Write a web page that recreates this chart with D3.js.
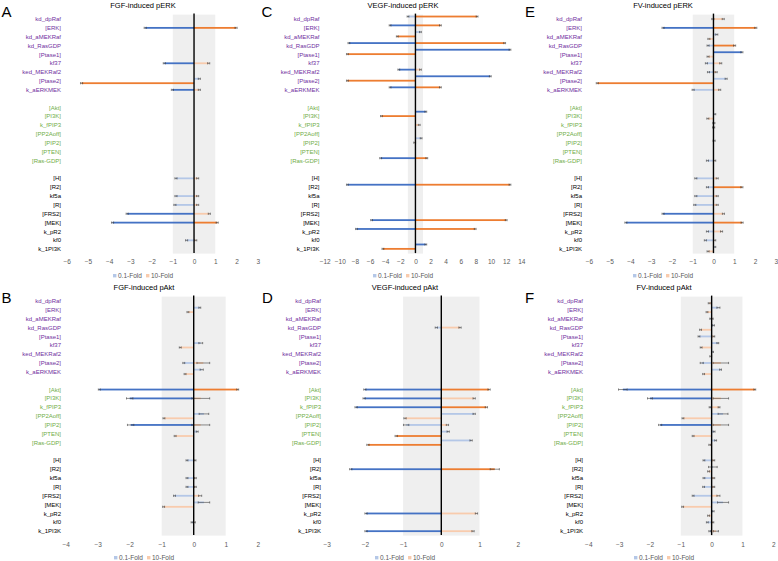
<!DOCTYPE html>
<html>
<head>
<meta charset="utf-8">
<script src="https://cdn.jsdelivr.net/npm/d3@7"></script>
<style>
  body { margin: 0; background: #fff; }
  svg { font-family: "Liberation Sans", Arial, sans-serif; }
</style>
</head>
<body>
<svg id="chart" width="778" height="561"></svg>
<script>
// parameter names, top to bottom
var categories = ["kd_dpRaf", "[ERK]", "kd_aMEKRaf", "kd_RasGDP", "[Ptase1]", "kf37", "ked_MEKRaf2", "[Ptase2]", "k_aERKMEK",
  "[Akt]", "[PI3K]", "k_fPIP3", "[PP2Aoff]", "[PIP2]", "[PTEN]", "[Ras-GDP]",
  "[H]", "[R2]", "kf5a", "[R]", "[FRS2]", "[MEK]", "k_pR2", "kf0", "k_1PI3K"];
var groups = [0,0,0,0,0,0,0,0,0, 1,1,1,1,1,1,1, 2,2,2,2,2,2,2,2,2];
var groupColors = ["#7030A0", "#70AD47", "#000000"];
var seriesNames = ["0.1-Fold", "10-Fold"];

// sensitivity values (0.1-fold / 10-fold)
var fgfErkLow  = [0, -2.3, 0, 0, 0, -1.4, 0, 0.25, -1.02, 0, 0, 0, 0, 0, 0, 0, -0.85, 0, -0.85, -0.9, -3.15, -3.84, 0, -0.35, 0];
var fgfErkHigh = [0, 1.98, 0, 0, 0, 0.69, 0, -5.3, 0.25, 0, 0, 0, 0, 0, 0, 0, 0.17, 0, 0.17, 0.17, 0.72, 1.09, 0, 0.08, 0];

var fgfAktLow  = [0, 0.19, 0, 0, 0, 0.22, 0, -0.31, 0.25, -2.95, -2.0, 0, 0.32, -1.97, 0.11, 0, -0.21, 0, -0.21, -0.21, -0.6, 0.32, 0, -0.05, 0];
var fgfAktHigh = [0, -0.18, 0, 0, 0, -0.42, 0, 0.3, -0.27, 1.375, 0.22, 0, -0.93, 0.22, -0.58, 0, 0.04, 0, 0.05, 0.05, 0.2, -0.94, 0, 0.02, 0];

var vegfErkLow  = [-0.98, -3.35, 0.66, -8.8, 12.5, 0, -2.2, 9.9, -3.35, 0, 1.37, 0, 0, 0.75, 0, -4.6, 0, -9.0, 0, 0, 0, -5.8, -7.8, 0, 1.37];
var vegfErkHigh = [8.15, 3.3, -2.4, 11.8, -9.0, 0, 0.66, -9.0, 3.3, 0, -4.5, 0.5, 0, -0.1, 0, 1.5, 0, 12.5, 0, 0, 0, 12.0, 7.9, 0, -4.3];

var vegfAktLow  = [0, 0, 0, -0.13, 0, 0, 0, 0, 0, -2.0, -2.02, -2.23, 0.86, -0.92, 0.18, 0.78, 0, -2.37, 0, 0, 0, 0, -1.97, 0, -1.97];
var vegfAktHigh = [0, 0, 0, 0.49, 0, 0, 0, 0, 0, 1.25, 0.86, 1.18, -0.95, 0.16, -1.18, -1.92, 0, 1.4, 0, 0, 0, 0, 0.92, 0, 0.83];

var fvErkLow  = [-0.03, -2.43, 0.16, -0.26, 1.37, -0.34, -0.24, 0.61, -0.98, 0, 0.06, 0.02, 0, 0.03, 0, -0.29, -0.85, -0.29, -0.85, -0.9, -2.43, -4.22, -0.29, -0.39, 0.06];
var fvErkHigh = [0.47, 2.04, -0.22, 1.02, -0.26, 0.35, 0.13, -5.6, 0.3, 0, -0.27, 0.01, 0, 0, 0, 0.06, 0.18, 1.37, 0.18, 0.18, 0.48, 1.38, 0.39, 0.06, -0.26];

var fvAktLow  = [0, 0.22, -0.03, 0.06, -0.41, 0.2, 0.03, -0.32, 0.29, -2.88, -2.0, -0.05, 0.37, -1.67, 0.08, 0.13, -0.25, 0.04, -0.25, -0.26, -0.6, 0.37, 0.05, -0.14, -0.06];
var fvAktHigh = [-0.08, -0.15, 0.02, -0.36, 0.07, -0.34, -0.03, 0.3, -0.26, 1.4, 0.3, 0.24, -0.93, 0.3, -0.6, -0.06, 0.07, -0.1, 0.07, 0.07, 0.22, -0.94, -0.1, 0.04, 0.14];

// larger error bars [category index, error]
var fgfAktErrLow  = [[5, 0.06], [8, 0.05], [10, 0.1], [12, 0.15], [13, 0.1], [21, 0.18]];
var fgfAktErrHigh = [[7, 0.2], [10, 0.28], [13, 0.28], [20, 0.05]];
var vegfAktErrLow  = [[13, 0.07]];
var vegfAktErrHigh = [[17, 0.12]];
var fvAktErrLow  = [[1, 0.05], [7, 0.05], [9, 0.14], [10, 0.08], [12, 0.16], [13, 0.05], [17, 0.14], [21, 0.18]];
var fvAktErrHigh = [[7, 0.25], [10, 0.25], [13, 0.25], [20, 0.05], [24, 0.08]];

var panels = [
  {letter: "A", title: "FGF-induced pERK",  low: fgfErkLow,  high: fgfErkHigh,  errLow: [], errHigh: [], err: 0.05, domain: [-6, 3],   step: 1, range: [66.7, 257.7],  labelX: 61,  cx: 143, letterX: 1.5, row: 0, shift: 0},
  {letter: "B", title: "FGF-induced pAkt",  low: fgfAktLow,  high: fgfAktHigh,  errLow: fgfAktErrLow, errHigh: fgfAktErrHigh, err: 0.03, domain: [-4, 2], step: 1, range: [65.7, 257.7], labelX: 61, cx: 144, letterX: 1.5, row: 1, shift: 0},
  {letter: "C", title: "VEGF-induced pERK", low: vegfErkLow, high: vegfErkHigh, errLow: [], errHigh: [], err: 0.12, domain: [-12, 14], step: 2, range: [324.7, 521.3], labelX: 319.5, cx: 403, letterX: 261.5, row: 0, shift: -2.5},
  {letter: "D", title: "VEGF-induced pAkt", low: vegfAktLow, high: vegfAktHigh, errLow: vegfAktErrLow, errHigh: vegfAktErrHigh, err: 0.03, domain: [-3, 2], step: 1, range: [326.7, 517.7], labelX: 321, cx: 405, letterX: 262, row: 1, shift: 0},
  {letter: "E", title: "FV-induced pERK",   low: fvErkLow,   high: fvErkHigh,   errLow: [], errHigh: [], err: 0.05, domain: [-6, 3],   step: 1, range: [589, 775.7],   labelX: 582, cx: 663, letterX: 525, row: 0, shift: 0},
  {letter: "F", title: "FV-induced pAkt",   low: fvAktLow,   high: fvAktHigh,   errLow: fvAktErrLow, errHigh: fvAktErrHigh, err: 0.03, domain: [-4, 2], step: 1, range: [588.3, 773.3], labelX: 583, cx: 664, letterX: 525, row: 1, shift: 0}
];

var rowLayout = [
  {top: 14.6, titleY: 7.5, letterY: 16.8, tickY: 264, legendY: 275.7},
  {top: 296.6, titleY: 289.5, letterY: 303.2, tickY: 546.7, legendY: 557.7}
];

var darkColors = ["#4472C4", "#ED7D31"];
var lightColors = ["#B4C7E7", "#F8CBAD"];
var plotH = 239;

// slot list with a blank row between groups
var rowKeys = [];
categories.forEach(function(c, i) {
  if (i > 0 && groups[i] != groups[i - 1]) rowKeys.push("gap" + i);
  rowKeys.push(c);
});

var svg = d3.select("#chart");
svg.append("rect").attr("width", 778).attr("height", 561).attr("fill", "#fff");

panels.forEach(function(p) {
  var L = rowLayout[p.row];
  var x = d3.scaleLinear().domain(p.domain).range(p.range);
  var y = d3.scaleBand().domain(rowKeys).range([L.top, L.top + plotH]);
  var g = svg.append("g");

  // grey +-1 band
  g.append("rect").attr("x", x(-1)).attr("y", L.top).attr("width", x(1) - x(-1)).attr("height", plotH).attr("fill", "#efefef");

  // bars
  var bars = [];
  categories.forEach(function(c, i) {
    var same = p.low[i] < 0 && p.high[i] > 0;
    [p.low[i], p.high[i]].forEach(function(v, s) {
      if (v === 0) return;
      var errList = s == 0 ? p.errLow : p.errHigh;
      var e = p.err;
      errList.forEach(function(d) { if (d[0] == i) e = d[1]; });
      var cy = y(c) + y.bandwidth() / 2 + p.shift + (same ? 0 : (s == 0 ? -2.2 : 2.2));
      bars.push({v: v, s: s, cy: cy, e: e});
    });
  });

  g.selectAll("rect.bar").data(bars).enter().append("rect").attr("class", "bar")
    .attr("x", function(d) { return x(Math.min(0, d.v)); })
    .attr("width", function(d) { return Math.abs(x(d.v) - x(0)); })
    .attr("y", function(d) { return d.cy - 0.9; })
    .attr("height", 1.8)
    .attr("fill", function(d) { return Math.abs(d.v) >= 1 ? darkColors[d.s] : lightColors[d.s]; });

  // error bars
  var eb = g.selectAll("g.err").data(bars).enter().append("g").attr("class", "err")
    .attr("stroke", "#404040").attr("stroke-width", 0.6);
  eb.append("line")
    .attr("x1", function(d) { return x(d.v - d.e); }).attr("x2", function(d) { return x(d.v + d.e); })
    .attr("y1", function(d) { return d.cy; }).attr("y2", function(d) { return d.cy; });
  eb.append("line")
    .attr("x1", function(d) { return x(d.v - d.e); }).attr("x2", function(d) { return x(d.v - d.e); })
    .attr("y1", function(d) { return d.cy - 1.1; }).attr("y2", function(d) { return d.cy + 1.1; });
  eb.append("line")
    .attr("x1", function(d) { return x(d.v + d.e); }).attr("x2", function(d) { return x(d.v + d.e); })
    .attr("y1", function(d) { return d.cy - 1.1; }).attr("y2", function(d) { return d.cy + 1.1; });

  // zero line
  g.append("line").attr("x1", x(0)).attr("x2", x(0)).attr("y1", L.top - 1).attr("y2", L.top + plotH - 0.5)
    .attr("stroke", "#000").attr("stroke-width", 1.4);

  // category labels
  g.selectAll("text.cat").data(categories).enter().append("text").attr("class", "cat")
    .attr("x", p.labelX)
    .attr("y", function(d) { return y(d) + y.bandwidth() / 2 + 2.1; })
    .attr("text-anchor", "end")
    .attr("font-size", "6px")
    .attr("fill", function(d, i) { return groupColors[groups[i]]; })
    .text(function(d) { return d; });

  // x axis tick labels
  var ticks = d3.range(p.domain[0], p.domain[1] + p.step / 2, p.step);
  var axis = d3.axisBottom(x).tickValues(ticks).tickSize(0).tickPadding(0).tickFormat(d3.format("d"));
  var ax = g.append("g").attr("transform", "translate(0," + (L.tickY - 4.6) + ")").call(axis);
  ax.select(".domain").remove();
  ax.selectAll("text").attr("font-size", "6.5px").attr("fill", "#595959").attr("font-family", "Liberation Sans, Arial, sans-serif");

  // title and panel letter
  g.append("text").attr("x", p.cx).attr("y", L.titleY).attr("text-anchor", "middle")
    .attr("font-size", "7.5px").attr("fill", "#000").text(p.title);
  g.append("text").attr("x", p.letterX).attr("y", L.letterY)
    .attr("font-size", "15px").attr("fill", "#000").text(p.letter);

  // legend
  var lg = g.append("g").attr("transform", "translate(" + (p.cx - 30) + "," + L.legendY + ")");
  seriesNames.forEach(function(name, s) {
    var ox = s == 0 ? 0 : 33;
    lg.append("rect").attr("x", ox).attr("y", -1.7).attr("width", 3.4).attr("height", 3.4).attr("fill", lightColors[s]);
    lg.append("text").attr("x", ox + 5).attr("y", 2.2).attr("font-size", "6.5px").attr("fill", "#595959").text(name);
  });
});
</script>
</body>
</html>
